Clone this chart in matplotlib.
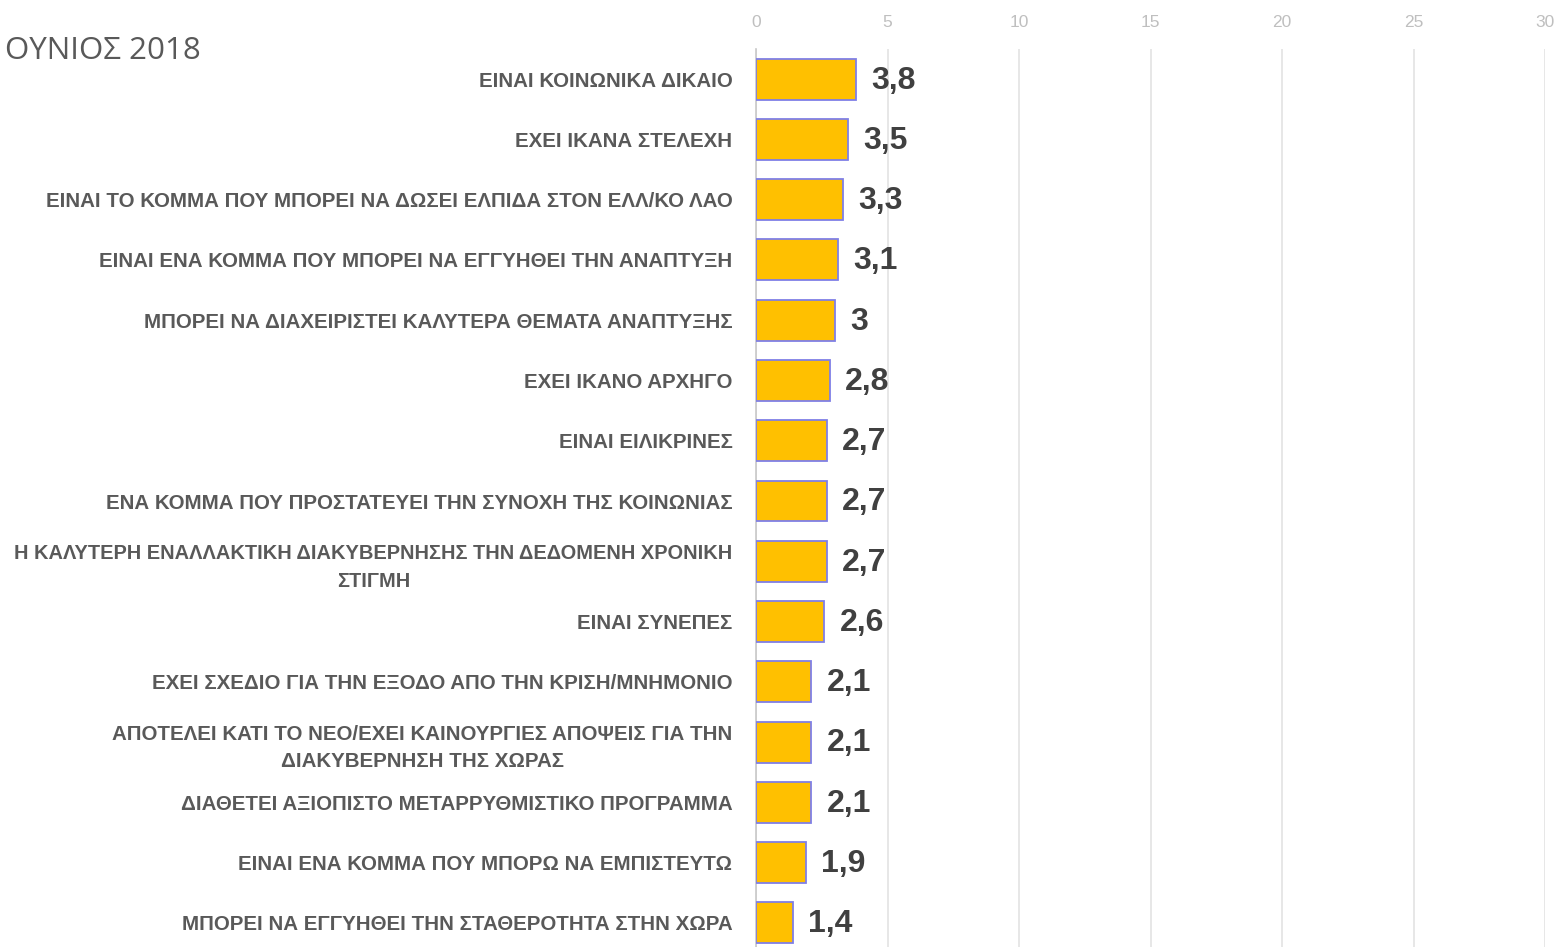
import matplotlib

matplotlib.use("Agg")
import matplotlib.pyplot as plt
from matplotlib import font_manager

TITLE = "ΟΥΝΙΟΣ 2018"

CATEGORIES = [
    "ΕΙΝΑΙ ΚΟΙΝΩΝΙΚΑ ΔΙΚΑΙΟ",
    "ΕΧΕΙ ΙΚΑΝΑ ΣΤΕΛΕΧΗ",
    "ΕΙΝΑΙ ΤΟ ΚΟΜΜΑ ΠΟΥ ΜΠΟΡΕΙ ΝΑ ΔΩΣΕΙ ΕΛΠΙΔΑ ΣΤΟΝ ΕΛΛ/ΚΟ ΛΑΟ",
    "ΕΙΝΑΙ ΕΝΑ ΚΟΜΜΑ ΠΟΥ ΜΠΟΡΕΙ ΝΑ ΕΓΓΥΗΘΕΙ ΤΗΝ ΑΝΑΠΤΥΞΗ",
    "ΜΠΟΡΕΙ ΝΑ ΔΙΑΧΕΙΡΙΣΤΕΙ ΚΑΛΥΤΕΡΑ ΘΕΜΑΤΑ ΑΝΑΠΤΥΞΗΣ",
    "ΕΧΕΙ ΙΚΑΝΟ ΑΡΧΗΓΟ",
    "ΕΙΝΑΙ ΕΙΛΙΚΡΙΝΕΣ",
    "ΕΝΑ ΚΟΜΜΑ ΠΟΥ ΠΡΟΣΤΑΤΕΥΕΙ ΤΗΝ ΣΥΝΟΧΗ ΤΗΣ ΚΟΙΝΩΝΙΑΣ",
    "Η ΚΑΛΥΤΕΡΗ ΕΝΑΛΛΑΚΤΙΚΗ ΔΙΑΚΥΒΕΡΝΗΣΗΣ ΤΗΝ ΔΕΔΟΜΕΝΗ ΧΡΟΝΙΚΗ\nΣΤΙΓΜΗ",
    "ΕΙΝΑΙ ΣΥΝΕΠΕΣ",
    "ΕΧΕΙ ΣΧΕΔΙΟ ΓΙΑ ΤΗΝ ΕΞΟΔΟ ΑΠΟ ΤΗΝ ΚΡΙΣΗ/ΜΝΗΜΟΝΙΟ",
    "ΑΠΟΤΕΛΕΙ ΚΑΤΙ ΤΟ ΝΕΟ/ΕΧΕΙ ΚΑΙΝΟΥΡΓΙΕΣ ΑΠΟΨΕΙΣ ΓΙΑ ΤΗΝ\nΔΙΑΚΥΒΕΡΝΗΣΗ ΤΗΣ ΧΩΡΑΣ",
    "ΔΙΑΘΕΤΕΙ ΑΞΙΟΠΙΣΤΟ ΜΕΤΑΡΡΥΘΜΙΣΤΙΚΟ ΠΡΟΓΡΑΜΜΑ",
    "ΕΙΝΑΙ ΕΝΑ ΚΟΜΜΑ ΠΟΥ ΜΠΟΡΩ ΝΑ ΕΜΠΙΣΤΕΥΤΩ",
    "ΜΠΟΡΕΙ ΝΑ ΕΓΓΥΗΘΕΙ ΤΗΝ ΣΤΑΘΕΡΟΤΗΤΑ ΣΤΗΝ ΧΩΡΑ",
]
VALUES = [3.8, 3.5, 3.3, 3.1, 3.0, 2.8, 2.7, 2.7, 2.7, 2.6, 2.1, 2.1, 2.1, 1.9, 1.4]
X_TICKS = [0, 5, 10, 15, 20, 25, 30]

installed = {f.name for f in font_manager.fontManager.ttflist}
label_font = "Liberation Sans Narrow" if "Liberation Sans Narrow" in installed else "Liberation Sans"
plt.rcParams["font.family"] = ["Liberation Sans", "DejaVu Sans"]

fig = plt.figure(figsize=(15.59, 9.47), dpi=100)
ax = fig.add_axes([756 / 1559, -6 / 947, (1545 - 756) / 1559, (953 - 49) / 947])

ypos = list(range(len(CATEGORIES)))
ax.barh(ypos, VALUES, height=0.68, color="#FFC000", edgecolor="#7F7FE6", linewidth=1.3, zorder=3)

for y, v in zip(ypos, VALUES):
    ax.annotate(
        f"{v:g}".replace(".", ","),
        (v, y),
        xytext=(11, -1),
        textcoords="offset points",
        ha="left",
        va="center",
        fontsize=23,
        fontweight="bold",
        color="#404040",
    )

ax.set_xlim(0, 30)
ax.set_ylim(len(CATEGORIES) - 0.5, -0.5)
ax.set_xticks(X_TICKS)
ax.xaxis.tick_top()
ax.tick_params(axis="x", length=0, labelsize=12.5, labelcolor="#BFBFBF", pad=14)
ax.set_yticks(ypos)
ax.set_yticklabels(CATEGORIES, multialignment="center", linespacing=1.55)
ax.tick_params(axis="y", length=0, pad=17)
for lbl in ax.get_yticklabels():
    lbl.set_fontfamily([label_font, "DejaVu Sans"])
    lbl.set_fontweight("bold")
    # the longest wrapped label is shrunk a touch so it stays inside the figure
    lbl.set_fontsize(14.4 if lbl.get_text().startswith("Η ΚΑΛ") else 14.8)
    lbl.set_color("#595959")

ax.grid(axis="x", color="#E3E3E3", linewidth=1.2, zorder=0)
for side in ["top", "right", "bottom"]:
    ax.spines[side].set_visible(False)
ax.spines["left"].set_color("#C8C8C8")
ax.spines["left"].set_linewidth(1.2)

fig.text(5 / 1559, 1 - 51 / 947, TITLE, ha="left", va="center", fontsize=22.5, color="#595959",
         family=["Open Sans", "DejaVu Sans"])

fig.savefig("out.png", dpi=100)
